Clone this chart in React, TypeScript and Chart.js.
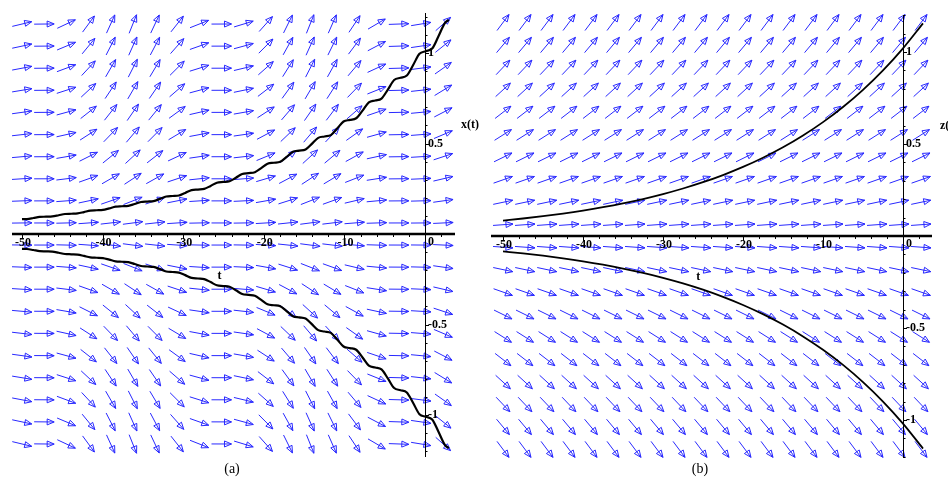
import React, { useEffect, useRef } from "react";
import { Chart, registerables } from "chart.js";

Chart.register(...registerables);

// ---- direction-field grid ----
const GRID_T = [-50.0, -47.25, -44.5, -41.75, -39.0, -36.25, -33.5, -30.75, -28.0, -25.25, -22.5, -19.75, -17.0, -14.25, -11.5, -8.75, -6.0, -3.25, -0.5, 2.25];
const GRID_ROWS = [1.16, 1.038, 0.916, 0.794, 0.672, 0.549, 0.427, 0.305, 0.183, 0.061, -0.061, -0.183, -0.305, -0.427, -0.549, -0.672, -0.794, -0.916, -1.038, -1.16];
// panel (a): growth rate (dx/dt divided by x) per grid column
const LEFT_COLUMN_RATE = [0.0092, 0.0004, 0.018, 0.0522, 0.084, 0.096, 0.0814, 0.0484, 0.0152, 0.0001, 0.0116, 0.0431, 0.0774, 0.0955, 0.0873, 0.0574, 0.0225, 0.0014, 0.0063, 0.0343];
// panel (b): slope dz/dt per grid row
const RIGHT_ROW_SLOPE = [0.058, 0.0519, 0.0458, 0.0397, 0.0336, 0.0275, 0.0214, 0.0153, 0.0092, 0.0031, -0.0031, -0.0092, -0.0153, -0.0214, -0.0275, -0.0336, -0.0397, -0.0458, -0.0519, -0.058];

// ---- tick labels ----
const X_TICKS = [-50, -40, -30, -20, -10, 0];
const X_TICK_LABELS = ["-50", "-40", "-30", "-20", "-10", "0"];
const Y_TICKS = [1, 0.5, -0.5, -1];
const Y_TICK_LABELS = ["1", "0.5", "-0.5", "-1"];

// ---- solution curves, panel (a) ----
const LEFT_T = [-50.0, -49.38, -48.59, -47.81, -47.02, -46.24, -45.45, -44.67, -43.88, -43.10, -42.31, -41.53, -40.74, -39.96, -39.17, -38.38, -37.60, -36.81, -36.03, -35.24, -34.46, -33.67, -32.89, -32.10, -31.32, -30.53, -29.75, -28.96, -28.17, -27.39, -26.60, -25.82, -25.03, -24.25, -23.46, -22.68, -21.89, -21.11, -20.32, -19.54, -18.75, -17.96, -17.18, -16.39, -15.61, -14.82, -14.04, -13.25, -12.47, -11.68, -10.90, -10.11, -9.32, -8.54, -7.75, -6.97, -6.18, -5.40, -4.61, -3.83, -3.04, -2.26, -1.47, -0.69, 0.10, 0.89, 1.67, 2.46, 2.95];
const LEFT_UPPER = [0.0818, 0.083, 0.0885, 0.0944, 0.0957, 0.0971, 0.1036, 0.1104, 0.112, 0.1136, 0.1212, 0.1292, 0.1311, 0.1329, 0.1418, 0.1512, 0.1534, 0.1556, 0.1659, 0.1769, 0.1794, 0.182, 0.1941, 0.207, 0.21, 0.213, 0.2271, 0.2422, 0.2457, 0.2492, 0.2657, 0.2834, 0.2875, 0.2916, 0.3109, 0.3316, 0.3364, 0.3412, 0.3638, 0.388, 0.3936, 0.3992, 0.4257, 0.454, 0.4605, 0.4671, 0.4981, 0.5312, 0.5388, 0.5466, 0.5829, 0.6215, 0.6305, 0.6395, 0.682, 0.7273, 0.7377, 0.7483, 0.798, 0.851, 0.8632, 0.8756, 0.9337, 0.9957, 1.01, 1.0245, 1.0925, 1.1651, 1.183];
const LEFT_LOWER = [-0.0818, -0.083, -0.0885, -0.0944, -0.0957, -0.0971, -0.1036, -0.1104, -0.112, -0.1136, -0.1212, -0.1292, -0.1311, -0.1329, -0.1418, -0.1512, -0.1534, -0.1556, -0.1659, -0.1769, -0.1794, -0.182, -0.1941, -0.207, -0.21, -0.213, -0.2271, -0.2422, -0.2457, -0.2492, -0.2657, -0.2834, -0.2875, -0.2916, -0.3109, -0.3316, -0.3364, -0.3412, -0.3638, -0.388, -0.3936, -0.3992, -0.4257, -0.454, -0.4605, -0.4671, -0.4981, -0.5312, -0.5388, -0.5466, -0.5829, -0.6215, -0.6305, -0.6395, -0.682, -0.7273, -0.7377, -0.7483, -0.798, -0.851, -0.8632, -0.8756, -0.9337, -0.9957, -1.01, -1.0245, -1.0925, -1.1651, -1.183];

// ---- solution curves, panel (b) ----
const RIGHT_T = [-50, -47.5, -45, -42.5, -40, -37.5, -35, -32.5, -30, -27.5, -25, -22.5, -20, -17.5, -15, -12.5, -10, -7.5, -5, -2.5, 0, 2.5];
const RIGHT_UPPER = [0.0837, 0.0949, 0.1075, 0.1218, 0.138, 0.1564, 0.1772, 0.2008, 0.2276, 0.2579, 0.2922, 0.3311, 0.3752, 0.4252, 0.4818, 0.546, 0.6187, 0.701, 0.7944, 0.9001, 1.02, 1.1558];
const RIGHT_LOWER = [-0.0837, -0.0949, -0.1075, -0.1218, -0.138, -0.1564, -0.1772, -0.2008, -0.2276, -0.2579, -0.2922, -0.3311, -0.3752, -0.4252, -0.4818, -0.546, -0.6187, -0.701, -0.7944, -0.9001, -1.02, -1.1558];

const ARROW_COLOR = "rgb(40,40,255)";
const LABEL_FONT = 'bold 12px "Liberation Serif", "Times New Roman", serif';

type PanelCfg = {
  left: number;
  width: number;
  height: number;
  padding: { left: number; right: number; top: number; bottom: number };
  xMin: number;
  xMax: number;
  yMin: number;
  yMax: number;
  slopeAt: (col: number, row: number) => number;
  series: { t: number[]; v: number[] }[];
  curveWidth: number;
  yName: string;
  yNamePos: [number, number];
  tNamePos: [number, number];
};

function fieldPlugin(cfg: PanelCfg) {
  return {
    id: "fieldAndAxes",
    beforeDatasetsDraw(chart: any) {
      const ctx: CanvasRenderingContext2D = chart.ctx;
      const xs = chart.scales.x;
      const ys = chart.scales.y;
      const area = chart.chartArea;
      ctx.save();
      // direction field arrows
      ctx.strokeStyle = ARROW_COLOR;
      ctx.lineWidth = 1;
      for (let j = 0; j < GRID_T.length; j++) {
        for (let i = 0; i < GRID_ROWS.length; i++) {
          const t = GRID_T[j];
          const v = GRID_ROWS[i];
          const s = cfg.slopeAt(j, i);
          const cx = xs.getPixelForValue(t);
          const cy = ys.getPixelForValue(v);
          const ex = xs.getPixelForValue(t + 1) - cx;
          const ey = ys.getPixelForValue(v + s) - cy;
          const len = Math.hypot(ex, ey);
          const dx = ex / len;
          const dy = ey / len;
          const half = 10;
          const tx = cx - dx * half;
          const ty = cy - dy * half;
          const hx = cx + dx * half;
          const hy = cy + dy * half;
          const bx = hx - dx * 7;
          const by = hy - dy * 7;
          ctx.beginPath();
          ctx.moveTo(tx, ty);
          ctx.lineTo(hx, hy);
          ctx.stroke();
          ctx.beginPath();
          ctx.moveTo(hx, hy);
          ctx.lineTo(bx - dy * 3, by + dx * 3);
          ctx.lineTo(bx + dy * 3, by - dx * 3);
          ctx.closePath();
          ctx.stroke();
        }
      }
      // axes
      const x0 = xs.getPixelForValue(0);
      const y0 = ys.getPixelForValue(0);
      ctx.strokeStyle = "#000";
      ctx.lineWidth = 2.5;
      ctx.beginPath();
      ctx.moveTo(area.left, y0);
      ctx.lineTo(area.right, y0);
      ctx.stroke();
      ctx.lineWidth = 1;
      ctx.beginPath();
      ctx.moveTo(x0 + 0.5, area.top);
      ctx.lineTo(x0 + 0.5, area.bottom);
      ctx.stroke();
      // y ticks
      for (let k = -12; k <= 12; k++) {
        if (k === 0) continue;
        const py = Math.round(ys.getPixelForValue(k / 10)) + 0.5;
        if (py < area.top || py > area.bottom) continue;
        const L = k % 5 === 0 ? 4 : 2.5;
        ctx.beginPath();
        ctx.moveTo(x0, py);
        ctx.lineTo(x0 + L, py);
        ctx.stroke();
      }
      // x ticks
      for (let k = -50; k <= 2; k += 2) {
        if (k === 0) continue;
        const px = Math.round(xs.getPixelForValue(k)) + 0.5;
        if (px < area.left || px > area.right) continue;
        const L = k % 10 === 0 ? 5 : 3;
        ctx.beginPath();
        ctx.moveTo(px, y0);
        ctx.lineTo(px, y0 + L);
        ctx.stroke();
      }
      // tick labels
      ctx.fillStyle = "#000";
      ctx.font = LABEL_FONT;
      ctx.textBaseline = "top";
      X_TICKS.forEach((v, idx) => {
        const px = xs.getPixelForValue(v);
        if (v === 0) {
          ctx.textAlign = "left";
          ctx.fillText(X_TICK_LABELS[idx], x0 + 3, y0 + 2);
        } else {
          ctx.textAlign = "center";
          ctx.fillText(X_TICK_LABELS[idx], px + 1, y0 + 3);
        }
      });
      ctx.textAlign = "left";
      ctx.textBaseline = "middle";
      Y_TICKS.forEach((v, idx) => {
        ctx.fillText(Y_TICK_LABELS[idx], x0 + 3, ys.getPixelForValue(v));
      });
      // axis names
      ctx.fillText(cfg.yName, xs.getPixelForValue(cfg.yNamePos[0]), ys.getPixelForValue(cfg.yNamePos[1]));
      ctx.textAlign = "center";
      ctx.fillText("t", xs.getPixelForValue(cfg.tNamePos[0]), ys.getPixelForValue(cfg.tNamePos[1]));
      ctx.restore();
    },
  };
}

function Panel({ cfg }: { cfg: PanelCfg }) {
  const ref = useRef<HTMLCanvasElement>(null);
  useEffect(() => {
    const canvas = ref.current;
    if (!canvas) return;
    const chart = new Chart(canvas, {
      type: "line",
      data: {
        datasets: cfg.series.map((s) => ({
          data: s.t.map((t, i) => ({ x: t, y: s.v[i] })),
          borderColor: "#000",
          borderWidth: cfg.curveWidth,
          pointRadius: 0,
          fill: false,
          cubicInterpolationMode: "monotone" as const,
        })),
      },
      options: {
        animation: false,
        responsive: false,
        events: [],
        layout: { padding: cfg.padding },
        plugins: { legend: { display: false }, tooltip: { enabled: false } },
        scales: {
          x: { type: "linear", min: cfg.xMin, max: cfg.xMax, display: false },
          y: { type: "linear", min: cfg.yMin, max: cfg.yMax, display: false },
        },
      },
      plugins: [fieldPlugin(cfg)],
    });
    return () => chart.destroy();
  }, []);
  return (
    <canvas
      ref={ref}
      width={cfg.width}
      height={cfg.height}
      style={{ position: "absolute", left: cfg.left, top: 0, width: cfg.width, height: cfg.height }}
    />
  );
}

const LEFT_CFG: PanelCfg = {
  left: 0,
  width: 480,
  height: 470,
  padding: { left: 12, right: 25, top: 13, bottom: 13 },
  xMin: -51.24,
  xMax: 3.72,
  yMin: -1.232,
  yMax: 1.221,
  slopeAt: (col, row) => LEFT_COLUMN_RATE[col] * GRID_ROWS[row],
  series: [
    { t: LEFT_T, v: LEFT_UPPER },
    { t: LEFT_T, v: LEFT_LOWER },
  ],
  curveWidth: 2.2,
  yName: "x(t)",
  yNamePos: [4.47, 0.602],
  tNamePos: [-25.5, -0.23],
};

const RIGHT_CFG: PanelCfg = {
  left: 470,
  width: 478,
  height: 470,
  padding: { left: 21, right: 16, top: 15, bottom: 12 },
  xMin: -51.5,
  xMax: 3.625,
  yMin: -1.207,
  yMax: 1.201,
  slopeAt: (_col, row) => RIGHT_ROW_SLOPE[row],
  series: [
    { t: RIGHT_T, v: RIGHT_UPPER },
    { t: RIGHT_T, v: RIGHT_LOWER },
  ],
  curveWidth: 1.8,
  yName: "z(t)",
  yNamePos: [4.62, 0.598],
  tNamePos: [-25.6, -0.22],
};

export default function App() {
  return (
    <div style={{ position: "fixed", left: 0, top: 0, width: 948, height: 481, background: "#fff", overflow: "hidden" }}>
      <Panel cfg={LEFT_CFG} />
      <Panel cfg={RIGHT_CFG} />
      <div style={{ position: "absolute", left: 207, top: 461, width: 50, textAlign: "center", font: '14px "Liberation Serif", "Times New Roman", serif' }}>(a)</div>
      <div style={{ position: "absolute", left: 675, top: 461, width: 50, textAlign: "center", font: '14px "Liberation Serif", "Times New Roman", serif' }}>(b)</div>
    </div>
  );
}
